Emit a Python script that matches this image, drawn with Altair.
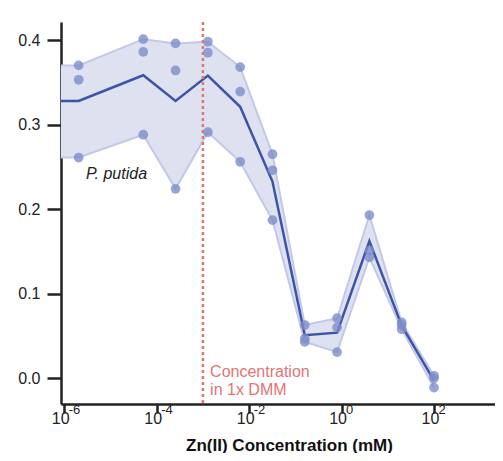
import altair as alt
import pandas as pd

# Zn(II) concentrations (mM), 5-fold dilution series (first one lies left of the axis)
conc = [4.096e-7, 2.048e-6, 5.12e-5, 2.56e-4, 1.28e-3, 6.4e-3, 0.032, 0.16, 0.8, 4.0, 20.0, 100.0]
rep1 = [0.370, 0.370, 0.401, 0.396, 0.398, 0.368, 0.265, 0.063, 0.071, 0.193, 0.066, 0.003]
rep2 = [0.353, 0.353, 0.386, 0.364, 0.385, 0.339, 0.246, 0.047, 0.060, 0.151, 0.063, 0.000]
rep3 = [0.261, 0.261, 0.288, 0.224, 0.291, 0.256, 0.187, 0.043, 0.031, 0.143, 0.058, -0.011]

dmm_conc = [1e-3]
y_ticks = [0.0, 0.1, 0.2, 0.3, 0.4]
x_tick_vals = [1e-6, 1e-4, 1e-2, 1, 100]
x_tick_base = "10"
x_tick_exp = ["-6", "-4", "-2", "0", "2"]

species_label = ["P. putida"]
species_pos = [(2.95e-6, 0.2357)]
dmm_label = ["Concentration\nin 1x DMM"]
dmm_label_pos = [(1.43e-3, 0.0015)]

x_domain = [8.5e-7, 2089]
y_domain = [-0.0304, 0.4213]

FONT = "Liberation Sans"
BLUE = "#3d53a6"
DOT = "#7d8dcb"
BAND = "#dde1f0"
EDGE = "#c2c9e6"
RED = "#e27474"

summary = pd.DataFrame({"conc": conc, "r1": rep1, "r2": rep2, "r3": rep3})
summary["mean"] = summary[["r1", "r2", "r3"]].mean(axis=1)
summary["lo"] = summary[["r1", "r2", "r3"]].min(axis=1)
summary["hi"] = summary[["r1", "r2", "r3"]].max(axis=1)
points = summary.melt(id_vars=["conc"], value_vars=["r1", "r2", "r3"], var_name="rep", value_name="val")

xscale = alt.Scale(type="log", domain=x_domain, nice=False)
yscale = alt.Scale(domain=y_domain, nice=False, zero=False)

xaxis = alt.Axis(
    values=x_tick_vals, labelExpr=f"'{x_tick_base}'", title="Zn(II) Concentration (mM)",
    tickSize=9, labelPadding=-3, labelOffset=-4, labelFontSize=16, labelFont=FONT, labelColor="#222",
    titleFont=FONT, titleFontSize=17, titleFontWeight="bold", titleColor="#111",
    titleX=228, titleY=46, titleBaseline="alphabetic", titleAnchor="middle",
    labelFlush=False, labelOverlap=False, grid=False,
)
yaxis = alt.Axis(
    values=y_ticks, format=".1f", title=None, tickSize=14, labelPadding=7,
    labelFontSize=16, labelFont=FONT, labelColor="#222", grid=False,
)


def X(field):
    return alt.X(field, type="quantitative", scale=xscale, axis=xaxis)


def Y(field):
    return alt.Y(field, type="quantitative", scale=yscale, axis=yaxis)


base = alt.Chart(summary)

band = base.mark_area(color=BAND, opacity=1, clip=True).encode(
    x=X("conc"), y=Y("lo"), y2="hi:Q"
)
edge_hi = base.mark_line(color=EDGE, strokeWidth=2, clip=True).encode(x=X("conc"), y=Y("hi"))
edge_lo = base.mark_line(color=EDGE, strokeWidth=2, clip=True).encode(x=X("conc"), y=Y("lo"))
dots = alt.Chart(points).mark_circle(color=DOT, opacity=0.8, size=95, clip=True).encode(
    x=X("conc"), y=Y("val")
)
mean_line = base.mark_line(color=BLUE, strokeWidth=2.5, clip=True).encode(x=X("conc"), y=Y("mean"))

rule = alt.Chart(pd.DataFrame({"conc": dmm_conc})).mark_rule(
    color=RED, strokeWidth=2.5, strokeDash=[3, 3]
).encode(x=X("conc"))

exps = alt.Chart(pd.DataFrame({"x": x_tick_vals, "e": x_tick_exp})).mark_text(
    align="left", baseline="alphabetic", dx=4.5, font=FONT, fontSize=13, color="#222"
).encode(x=X("x"), y=alt.value(392), text="e:N")

sp = pd.DataFrame({"t": species_label, "x": [p[0] for p in species_pos], "y": [p[1] for p in species_pos]})
sp_text = alt.Chart(sp).mark_text(
    align="left", baseline="alphabetic", font=FONT, fontSize=16, fontStyle="italic", color="#222"
).encode(x=X("x"), y=Y("y"), text="t:N")

dm = pd.DataFrame({"t": dmm_label, "x": [p[0] for p in dmm_label_pos], "y": [p[1] for p in dmm_label_pos]})
dm_text = alt.Chart(dm).mark_text(
    align="left", baseline="alphabetic", font=FONT, fontSize=16, color=RED,
    lineBreak="\n", lineHeight=18
).encode(x=X("x"), y=Y("y"), text="t:N")

chart = alt.layer(band, edge_hi, edge_lo, mean_line, dots, rule, exps, sp_text, dm_text).properties(
    width=434, height=382,
    autosize=alt.AutoSizeParams(type="none"),
    padding={"left": 53, "top": 14, "right": 0, "bottom": 49},
).configure_view(stroke=None).configure_axis(
    domainColor="#222", domainWidth=2.5, tickColor="#222", tickWidth=2.5,
)

chart.save("out.html", embed_options={"renderer": "svg", "actions": False})
